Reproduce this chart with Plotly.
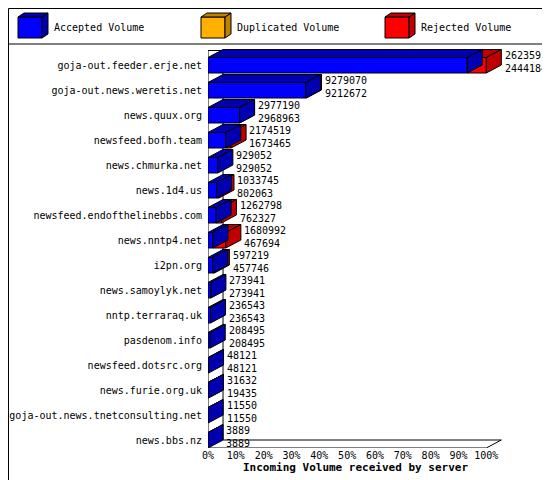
import plotly.graph_objects as go

servers = ["goja-out.feeder.erje.net","goja-out.news.weretis.net","news.quux.org","newsfeed.bofh.team",
           "news.chmurka.net","news.1d4.us","newsfeed.endofthelinebbs.com","news.nntp4.net","i2pn.org",
           "news.samoylyk.net","nntp.terraraq.uk","pasdenom.info","newsfeed.dotsrc.org","news.furie.org.uk",
           "goja-out.news.tnetconsulting.net","news.bbs.nz"]
offered = [26235914,9279070,2977190,2174519,929052,1033745,1262798,1680992,597219,273941,236543,208495,48121,31632,11550,3889]
accepted = [24441843,9212672,2968963,1673465,929052,802063,762327,467694,457746,273941,236543,208495,48121,19435,11550,3889]
tick_pct = [0,10,20,30,40,50,60,70,80,90,100]

XMAX = 106
DX, DY = 5.4, 0.32   # depth in data units (~15px, ~8px)
FONT = "DejaVu Sans Mono"
mx = max(offered)
fig = go.Figure()

def box(x0, x1, y0, y1, front, dark):
    fig.add_trace(go.Scatter(x=[x0,x1,x1,x0,x0], y=[y0,y0,y1,y1,y0], fill="toself", fillcolor=front,
                             line=dict(color="black", width=1), mode="lines", hoverinfo="skip", showlegend=False, cliponaxis=False))
    fig.add_trace(go.Scatter(x=[x0,x1,x1+DX,x0+DX,x0], y=[y0,y0,y0-DY,y0-DY,y0], fill="toself", fillcolor=dark,
                             line=dict(color="black", width=1), mode="lines", hoverinfo="skip", showlegend=False, cliponaxis=False))
    fig.add_trace(go.Scatter(x=[x1,x1+DX,x1+DX,x1,x1], y=[y0,y0-DY,y1-DY,y1,y0], fill="toself", fillcolor=dark,
                             line=dict(color="black", width=1), mode="lines", hoverinfo="skip", showlegend=False, cliponaxis=False))

# wall and floor
fig.add_trace(go.Scatter(x=[0,0,100,100+DX,DX,DX,0], y=[0.1,16,16,16-DY,16-DY,0.1,0.1], mode="lines",
                         line=dict(color="black", width=1), hoverinfo="skip", showlegend=False, cliponaxis=False))

centers = []
for i, (o, a) in enumerate(zip(offered, accepted)):
    y0, y1 = i + 0.38, i + 1.0
    centers.append((y0 + y1) / 2)
    pa, po = a / mx * 100, o / mx * 100
    if po > pa:
        box(pa, po, y0, y1, "#ff0000", "#c00000")
    box(0, pa, y0, y1, "#0000ff", "#0000b0")
    fig.add_annotation(xref="paper", x=(po + DX + 0.5) / XMAX, y=(y0 + y1) / 2 - 0.12, text=f"{o}<br>{a}",
                       showarrow=False, xanchor="left", yanchor="middle", align="left",
                       font=dict(family=FONT, size=10, color="black"))

fig.update_xaxes(range=[0, XMAX], tickvals=tick_pct, ticktext=[f"{t}%" for t in tick_pct], automargin=False,
                 showgrid=False, zeroline=False, ticks="", tickfont=dict(family=FONT, size=10, color="black"),
                 title=dict(text="<b>Incoming Volume received by server</b>", font=dict(family=FONT, size=11, color="black"), standoff=0))
fig.update_yaxes(range=[16, 0], tickvals=centers, ticktext=servers, showgrid=False, zeroline=False, automargin=False,
                 ticklabelstandoff=5, tickfont=dict(family=FONT, size=10, color="black"))

# legend
items = [("Accepted Volume", "#0000ff", "#0000b0", 10), ("Duplicated Volume", "#ffb000", "#c08000", 193),
         ("Rejected Volume", "#ff0000", "#c00000", 377)]
def px(x): return (x - 200) / 295
def py(y): return (440 - y) / 400
for name, c, d, x in items:
    fig.add_shape(type="rect", xref="paper", yref="paper", x0=px(x), x1=px(x+24), y0=py(30), y1=py(9),
                  fillcolor=c, line=dict(color="black", width=1))
    fig.add_shape(type="path", xref="paper", yref="paper", fillcolor=d, line=dict(color="black", width=1),
                  path=f"M {px(x+24)} {py(30)} L {px(x+30)} {py(26)} L {px(x+30)} {py(5)} L {px(x+24)} {py(9)} Z")
    fig.add_shape(type="path", xref="paper", yref="paper", fillcolor=d, line=dict(color="black", width=1),
                  path=f"M {px(x)} {py(9)} L {px(x+6)} {py(5)} L {px(x+30)} {py(5)} L {px(x+24)} {py(9)} Z")
    fig.add_annotation(xref="paper", yref="paper", x=px(x+34), y=py(19), text=name, showarrow=False,
                       xanchor="left", yanchor="middle", font=dict(family=FONT, size=10, color="black"))
fig.add_shape(type="line", xref="paper", yref="paper", x0=px(0), x1=px(550), y0=py(36), y1=py(36),
              line=dict(color="black", width=1))
fig.add_shape(type="rect", xref="paper", yref="paper", x0=px(0.5), x1=px(549), y0=py(0.5), y1=py(479),
              line=dict(color="black", width=1))

fig.update_layout(width=550, height=480, margin=dict(l=200, r=55, t=40, b=40),
                  paper_bgcolor="white", plot_bgcolor="white")
fig.write_html("out.html")
